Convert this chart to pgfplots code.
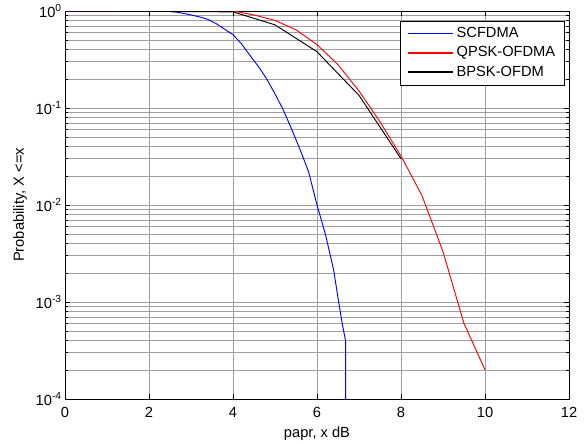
\documentclass[border=0pt]{standalone}
\usepackage{fontspec}
\setmainfont{Liberation Sans}
\usepackage{pgfplots}
\pgfplotsset{compat=1.18}
\usetikzlibrary{calc}

\begin{document}
\fontsize{11}{13}\selectfont
\begin{tikzpicture}
\begin{axis}[
  scale only axis, width=378pt, height=291pt,
  xmin=0, xmax=12, ymode=log, ymin=1e-4, ymax=1,
  xtick={0,2,...,12},
  ytick={1e-4,1e-3,1e-2,1e-1,1},
  yticklabels={10\textsuperscript{-4},10\textsuperscript{-3},10\textsuperscript{-2},10\textsuperscript{-1},10\textsuperscript{0}},
  /pgf/number format/assume math mode=true,
  tick align=inside, tick pos=both,
  major tick length=4pt, minor tick length=2.5pt,
  every tick/.style={black, line width=0.4pt},
  grid=both, minor x tick num=0,
  major grid style={gray!75, line width=0.45pt},
  minor grid style={gray!75, line width=0.45pt},
  axis line style={black, line width=0.6pt},
  tick label style={font=\fontsize{11}{13}\selectfont},
  xticklabel style={yshift=-2.5pt},
  yticklabel style={xshift=1.5pt},
  xlabel={papr, x dB}, ylabel={Probability, X <=x},
  label style={font=\fontsize{11}{13}\selectfont},
  xlabel style={yshift=1pt},
  ylabel style={yshift=-1pt},
  legend style={at={(0.992,0.9755)}, anchor=north east, line width=0.6pt,
    font=\fontsize{11}{13}\selectfont, row sep=1pt, inner xsep=5pt, inner ysep=3pt},
  legend cell align=left,
  legend image code/.code={\draw[#1, line width=0.9pt] (0pt,0pt) -- (34pt,0pt);},
  every axis plot/.append style={line width=0.7pt},
]
\addplot[color=blue] coordinates {
  (0,1) (2.4,1) (2.6,0.98) (2.8,0.95) (3.0,0.91) (3.2,0.87) (3.4,0.82)
  (3.6,0.74) (3.8,0.65) (4.0,0.57) (4.2,0.46) (4.4,0.35) (4.6,0.27)
  (4.8,0.20) (5.0,0.14) (5.2,0.095) (5.4,0.06) (5.6,0.037) (5.8,0.022)
  (6.0,0.010) (6.2,0.005) (6.4,0.0021) (6.5,0.0011) (6.6,0.0006)
  (6.68,0.0004) (6.69,0.000001)};
\addlegendentry{SCFDMA}
\addplot[color=red] coordinates {
  (0,1) (4,1) (4.5,0.91) (5,0.80) (5.5,0.64) (6,0.45) (6.5,0.28) (7,0.15)
  (7.5,0.072) (8,0.032) (8.5,0.0125) (9,0.0033) (9.5,0.0006) (10,0.0002)};
\addlegendentry{QPSK-OFDMA}
\addplot[color=black] coordinates {
  (0,1) (4,0.98) (5,0.72) (6,0.38) (7,0.135) (8,0.03)};
\addlegendentry{BPSK-OFDM}
\end{axis}
\pgfresetboundingbox
\useasboundingbox ($(current axis.south west)+(-48.75pt,-33pt)$) rectangle ($(current axis.north east)+(11.25pt,8.25pt)$);
\end{tikzpicture}
\end{document}
